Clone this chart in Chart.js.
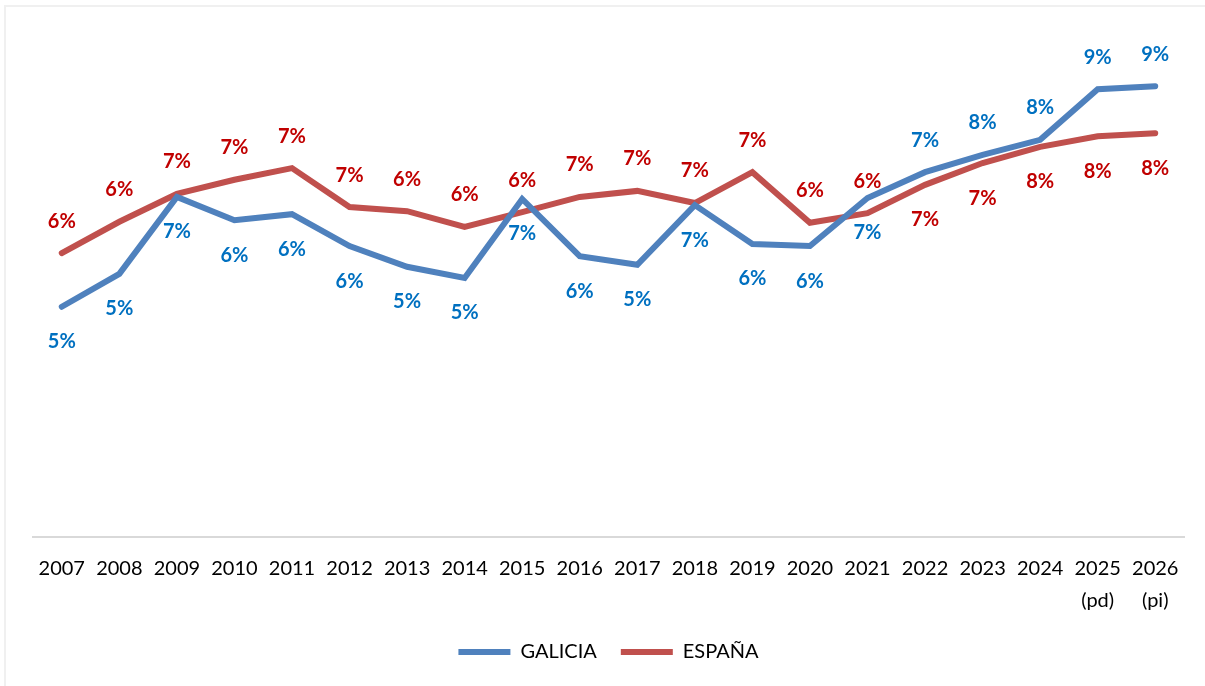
<!DOCTYPE html>
<html>
<head>
<meta charset="utf-8">
<script src="https://cdn.jsdelivr.net/npm/chart.js@4"></script>
<style>
  html, body { margin:0; padding:0; background:#fff; }
  #wrap { position:relative; width:1205px; height:686px; }
  #frame { position:absolute; left:4px; top:5px; right:-2px; bottom:-2px;
           border-left:2px solid #f0f0f0; border-top:2px solid #f0f0f0; }
  canvas { position:absolute; left:0; top:0; }
</style>
</head>
<body>
<div id="wrap">
  <div id="frame"></div>
  <canvas id="chart" width="1205" height="686"></canvas>
</div>
<script>

const years = [
  "2007","2008","2009","2010","2011","2012","2013","2014","2015","2016",
  "2017","2018","2019","2020","2021","2022","2023","2024",
  ["2025","(pd)"], ["2026","(pi)"]
];

// percent values
const galicia = [
  4.55, 5.20, 6.72, 6.26, 6.38, 5.75, 5.34, 5.12, 6.68, 5.55,
  5.38, 6.56, 5.79, 5.75, 6.70, 7.21, 7.55, 7.85, 8.85, 8.91
];

const espana = [
  5.61, 6.23, 6.78, 7.06, 7.29, 6.52, 6.44, 6.13, 6.42, 6.72,
  6.84, 6.60, 7.21, 6.21, 6.40, 6.96, 7.39, 7.71, 7.92, 7.98
];

// label above (true) or below (false) the point
const galiciaAbove = [
  false,false,false,false,false,false,false,false,false,false,
  false,false,false,false,false,true,true,true,true,true
];
const espanaAbove = [
  true,true,true,true,true,true,true,true,true,true,
  true,true,true,true,true,false,false,false,false,false
];

/* DATA LABELS */

const pointLabels = {
  id: "pointLabels",
  afterDatasetsDraw(chart){
    const ctx = chart.ctx;
    ctx.save();
    ctx.font = "bold 20px Lato";
    ctx.textAlign = "center";
    ctx.textBaseline = "middle";
    chart.data.datasets.forEach((ds, i) => {
      const meta = chart.getDatasetMeta(i);
      meta.data.forEach((pt, j) => {
        const up = ds.labelAbove[j];
        ctx.fillStyle = ds.labelColor;
        ctx.fillText(
          Math.round(ds.data[j]) + "%",
          pt.x,
          up ? pt.y - 32 : pt.y + 35
        );
      });
    });
    ctx.restore();
  }
};

new Chart(document.getElementById("chart"), {
  type: "line",
  data: {
    labels: years,
    datasets: [
      {
        label: "GALICIA",
        data: galicia,
        borderColor: "#4F81BD",
        backgroundColor: "#4F81BD",
        borderWidth: 6,
        borderCapStyle: "round",
        pointRadius: 0,
        pointStyle: "line",
        tension: 0,
        labelColor: "#0070C0",
        labelAbove: galiciaAbove
      },
      {
        label: "ESPAÑA",
        data: espana,
        borderColor: "#C0504D",
        backgroundColor: "#C0504D",
        borderWidth: 6,
        borderCapStyle: "round",
        pointRadius: 0,
        pointStyle: "line",
        tension: 0,
        labelColor: "#C00000",
        labelAbove: espanaAbove
      }
    ]
  },
  options: {
    responsive: false,
    animation: false,
    layout: {
      padding: { left: 33, right: 21, top: 31, bottom: 14 }
    },
    scales: {
      x: {
        offset: true,
        grid: { display: false },
        border: { color: "#d9d9d9", width: 2 },
        ticks: {
          color: "#000",
          font: { family: "Lato", size: 20, lineHeight: 1.6 },
          maxRotation: 0,
          autoSkip: false,
          padding: 8
        },
        afterFit(scale){
          scale.height -= 7;
        }
      },
      y: {
        display: false,
        min: 0,
        max: 10
      }
    },
    plugins: {
      tooltip: { enabled: false },
      legend: {
        position: "bottom",
        labels: {
          color: "#000",
          font: { family: "Lato", size: 20 },
          usePointStyle: true,
          pointStyle: "line",
          pointStyleWidth: 52,
          padding: 24
        }
      }
    }
  },
  plugins: [pointLabels]
});

</script>
</body>
</html>
